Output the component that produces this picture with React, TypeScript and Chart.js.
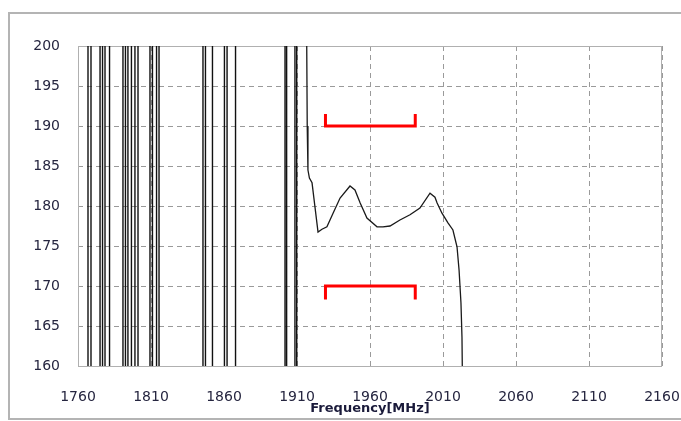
import React, { useEffect, useRef } from "react";
import { Chart, registerables } from "chart.js";

Chart.register(...registerables);

// Off-scale oscillation: each pair of equal frequencies is one vertical swing across the plot
const spikeFreqs = [
  1760, 1766.85, 1766.85, 1768.9, 1768.9, 1775.1, 1775.1, 1776.8, 1776.8, 1778.5, 1778.5,
  1781.6, 1781.6, 1790.8, 1790.8, 1792.5, 1792.5, 1794.2, 1794.2, 1796.6, 1796.6,
  1799.0, 1799.0, 1801.1, 1801.1, 1809.3, 1809.3, 1811.0, 1811.0, 1813.8, 1813.8,
  1815.5, 1815.5, 1845.6, 1845.6, 1847.3, 1847.3, 1852.1, 1852.1, 1860.3, 1860.3,
  1862.1, 1862.1, 1867.9, 1867.9, 1901.8, 1901.8, 1902.9, 1902.9, 1908.6, 1908.6,
  1909.8, 1909.8,
];
const spikeValues = [
  250, 250, 110, 110, 250, 250, 110, 110, 250, 250, 110,
  110, 250, 250, 110, 110, 250, 250, 110, 110, 250,
  250, 110, 110, 250, 250, 110, 110, 250, 250, 110,
  110, 250, 250, 110, 110, 250, 250, 110, 110, 250,
  250, 110, 110, 250, 250, 110, 110, 250, 250, 110,
  110, 250,
];

// Measured response curve
const curveFreqs = [
  1912, 1916.5, 1917.0, 1917.5, 1918.5, 1920.3, 1922.3, 1924.4, 1927.1, 1930.5, 1934.7,
  1939.5, 1946.3, 1949.7, 1953.2, 1957.9, 1964.8, 1968.9, 1973.7, 1980.5, 1987.4,
  1994.2, 2001.1, 2004.5, 2005.9, 2009.3, 2013.4, 2016.8, 2019.6, 2021.0, 2022.3,
  2023.0, 2023.5,
];
const curveValues = [
  250, 205, 190, 184.5, 183.5, 182.9, 179.9, 176.75, 177.1, 177.4, 179.1,
  181.0, 182.5, 182.0, 180.4, 178.5, 177.4, 177.4, 177.5, 178.25, 178.9,
  179.75, 181.6, 181.1, 180.4, 179.1, 177.9, 177.0, 174.9, 172.0, 167.9,
  163.6, 155,
];

// Red limit brackets
const upperFreqs = [1929.5, 1929.5, 1991, 1991];
const upperValues = [191.5, 190, 190, 191.5];
const lowerFreqs = [1929.5, 1929.5, 1991, 1991];
const lowerValues = [168.3, 170, 170, 168.3];

const xTicks = [1760, 1810, 1860, 1910, 1960, 2010, 2060, 2110, 2160];
const yTicks = [160, 165, 170, 175, 180, 185, 190, 195, 200];

const toPts = (xs: number[], ys: number[]) => xs.map((x, i) => ({ x, y: ys[i] }));

const framePlugin = {
  id: "frame",
  beforeDatasetsDraw(chart: any) {
    const { ctx, chartArea } = chart;
    ctx.save();
    ctx.strokeStyle = "#b0b0b0";
    ctx.lineWidth = 1;
    ctx.strokeRect(
      Math.round(chartArea.left) + 0.5,
      Math.round(chartArea.top) + 0.5,
      Math.round(chartArea.right - chartArea.left) - 1,
      Math.round(chartArea.bottom - chartArea.top)
    );
    ctx.restore();
  },
  afterDraw(chart: any) {
    const { ctx } = chart;
    ctx.save();
    ctx.strokeStyle = "#b4b4b4";
    ctx.lineWidth = 2;
    ctx.beginPath();
    ctx.moveTo(690, 13);
    ctx.lineTo(9, 13);
    ctx.lineTo(9, 419);
    ctx.lineTo(690, 419);
    ctx.stroke();
    ctx.restore();
  },
};

export default function App() {
  const ref = useRef<HTMLCanvasElement | null>(null);
  useEffect(() => {
    if (!ref.current) return;
    const font = { family: "'DejaVu Sans', sans-serif", size: 14 };
    const chart = new Chart(ref.current, {
      type: "line",
      data: {
        datasets: [
          {
            data: toPts(spikeFreqs, spikeValues),
            borderColor: "#111111",
            borderWidth: 1.4,
            pointRadius: 0,
            tension: 0,
            clip: 0,
          },
          {
            data: toPts(curveFreqs, curveValues),
            borderColor: "#1a1a1a",
            borderWidth: 1.3,
            pointRadius: 0,
            tension: 0,
            clip: 0,
          },
          {
            data: toPts(upperFreqs, upperValues),
            borderColor: "#ff0000",
            borderWidth: 3,
            pointRadius: 0,
            tension: 0,
            borderJoinStyle: "miter",
          },
          {
            data: toPts(lowerFreqs, lowerValues),
            borderColor: "#ff0000",
            borderWidth: 3,
            pointRadius: 0,
            tension: 0,
            borderJoinStyle: "miter",
          },
        ],
      },
      options: {
        animation: false,
        responsive: false,
        devicePixelRatio: 1,
        layout: { padding: { left: 0, right: 0, top: 46, bottom: 0 } },
        plugins: { legend: { display: false }, tooltip: { enabled: false } },
        scales: {
          x: {
            type: "linear",
            min: 1760,
            max: 2160,
            afterBuildTicks: (s: any) => {
              s.ticks = xTicks.map((v) => ({ value: v }));
            },
            afterFit: (s: any) => {
              s.height = 55;
              s.paddingRight = 19;
              s.paddingLeft = 0;
            },
            ticks: { font, color: "#262640", padding: 23, callback: (v: any) => String(v) },
            grid: {
              color: "#9a9a9a",
              lineWidth: 1,
              drawTicks: false,
            },
            border: { display: false, dash: [5, 4] },
            title: {
              display: true,
              text: "Frequency[MHz]",
              color: "#1a1a3a",
              font: { family: "'DejaVu Sans', sans-serif", size: 13, weight: "bold" },
              padding: { top: 0, bottom: 5 },
            },
          },
          y: {
            type: "linear",
            min: 160,
            max: 200,
            afterBuildTicks: (s: any) => {
              s.ticks = yTicks.map((v) => ({ value: v }));
            },
            afterFit: (s: any) => {
              s.width = 78;
              s.paddingTop = 0;
              s.paddingBottom = 0;
            },
            ticks: { font, color: "#262640", padding: 18, callback: (v: any) => String(v) },
            grid: { color: "#9a9a9a", lineWidth: 1, drawTicks: false },
            border: { display: false, dash: [5, 4] },
          },
        },
      },
      plugins: [framePlugin],
    });
    return () => chart.destroy();
  }, []);
  return (
    <div style={{ position: "fixed", left: 0, top: 0, width: 681, height: 421, background: "#fff" }}>
      <canvas ref={ref} width={681} height={421} style={{ display: "block", width: 681, height: 421 }} />
    </div>
  );
}
